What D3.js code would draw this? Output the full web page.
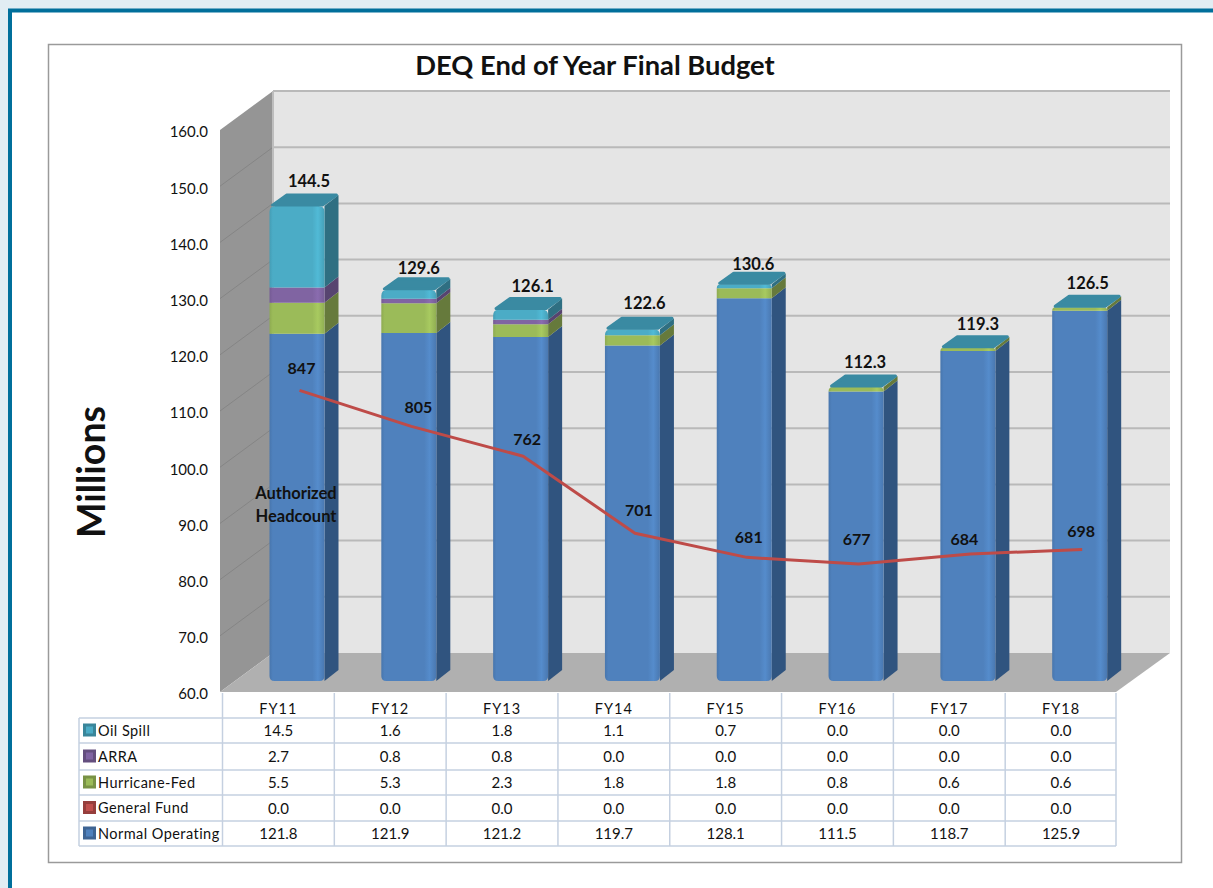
<!DOCTYPE html>
<html>
<head>
<meta charset="utf-8">
<script src="https://cdn.jsdelivr.net/npm/d3@7"></script>
<style>
  html, body { margin: 0; padding: 0; background: #fff; }
  svg { display: block; }
  text { font-family: Lato, "Open Sans", sans-serif; fill: #111; }
</style>
</head>
<body>
<svg width="1213" height="888"></svg>
<script>
const YEARS = ['FY11', 'FY12', 'FY13', 'FY14', 'FY15', 'FY16', 'FY17', 'FY18'];
const NORMAL = [121.8, 121.9, 121.2, 119.7, 128.1, 111.5, 118.7, 125.9];
const GENERAL = [0, 0, 0, 0, 0, 0, 0, 0];
const HURRICANE = [5.5, 5.3, 2.3, 1.8, 1.8, 0.8, 0.6, 0.6];
const ARRA = [2.7, 0.8, 0.8, 0, 0, 0, 0, 0];
const OIL = [14.5, 1.6, 1.8, 1.1, 0.7, 0, 0, 0];
const TOTALS = [144.5, 129.6, 126.1, 122.6, 130.6, 112.3, 119.3, 126.5];
const HEADCOUNT = [847, 805, 762, 701, 681, 677, 684, 698];
// where the headcount line sits, read in units of the left axis
const HEADCOUNT_LEVEL = [111.7, 105.3, 100, 86.3, 82, 80.8, 82.6, 83.4];
const AXIS_TICKS = [60, 70, 80, 90, 100, 110, 120, 130, 140, 150, 160];

const SERIES_NAMES = ['Oil Spill', 'ARRA', 'Hurricane-Fed', 'General Fund', 'Normal Operating'];
const SERIES_VALUES = [OIL, ARRA, HURRICANE, GENERAL, NORMAL];
const FRONT = ['#4bacc6', '#8064a2', '#9bbb59', '#c0504d', '#4f81bd'];
const SIDE = ['#2f6f82', '#574470', '#667a3c', '#7f3331', '#30547f'];

const DEPTH_X = 53, DEPTH_Y = 39;      // wall depth
const BAR_DX = 14, BAR_DY = 11;        // bar depth
const BAR_W = 55;

const svg = d3.select('svg');

const x = d3.scaleBand().domain(YEARS).range([222.5, 1117]);
const yFront = d3.scaleLinear().domain([60, 160]).range([692, 130]);
const yBar = v => yFront(v) - BAR_DY;
const yBack = v => yFront(v) - DEPTH_Y;

// page frame
svg.append('rect').attr('width', 1213).attr('height', 888).attr('fill', '#e1edf3');
svg.append('rect').attr('x', 10).attr('y', 10.5).attr('width', 1300).attr('height', 1000)
  .attr('fill', '#fff').attr('stroke', '#006f9b').attr('stroke-width', 4);
svg.append('rect').attr('x', 48.5).attr('y', 44.5).attr('width', 1133).attr('height', 818)
  .attr('fill', '#fff').attr('stroke', '#9a9a9a').attr('stroke-width', 1.5);

svg.append('text').attr('x', 595).attr('y', 75).attr('text-anchor', 'middle')
  .attr('font-size', 27.3).attr('font-weight', 700).text('DEQ End of Year Final Budget');
svg.append('text').attr('transform', 'translate(105,472) rotate(-90)').attr('text-anchor', 'middle')
  .attr('font-size', 37.5).attr('font-weight', 700).text('Millions');

// gradients for the bar fronts
const defs = svg.append('defs');
FRONT.forEach((c, i) => {
  const g = defs.append('linearGradient').attr('id', 'front' + i);
  const c3 = d3.color(c);
  [[0, c3.darker(0.25)], [0.06, c], [0.78, c], [0.88, c3.brighter(0.22)], [1, c3.darker(0.2)]].forEach(s => {
    g.append('stop').attr('offset', s[0]).attr('stop-color', s[1]);
  });
});
const blur = defs.append('filter').attr('id', 'soft').attr('x', '-5%').attr('y', '-20%').attr('width', '110%').attr('height', '140%');
blur.append('feGaussianBlur').attr('stdDeviation', 0.6);

// walls and floor
const xl = x.range()[0] - 2.5, xr = x.range()[1] - 1;
const wall = (pts, fill) => svg.append('polygon').attr('points', pts.join(' ')).attr('fill', fill);
wall([[xl + DEPTH_X, yBack(160)], [xr + DEPTH_X + 1, yBack(160)], [xr + DEPTH_X + 1, yBack(60)], [xl + DEPTH_X, yBack(60)]], '#e5e5e5');
wall([[xl, yFront(160)], [xl + DEPTH_X, yBack(160)], [xl + DEPTH_X, yBack(60)], [xl, yFront(60)]], '#959595');
wall([[xl, yFront(60)], [xl + DEPTH_X, yBack(60)], [xr + DEPTH_X + 1, yBack(60)], [xr, yFront(60)]], '#b0b0b0');

const gridTicks = AXIS_TICKS.filter(d => d > 60);
svg.append('g').selectAll('line').data(gridTicks).enter().append('line')
  .attr('x1', xl + DEPTH_X).attr('x2', xr + DEPTH_X + 1)
  .attr('y1', d => yBack(d)).attr('y2', d => yBack(d))
  .attr('stroke', '#b9b9b9').attr('stroke-width', 2);
svg.append('g').selectAll('line').data(gridTicks.filter(d => d < 160)).enter().append('line')
  .attr('x1', xl).attr('x2', xl + DEPTH_X)
  .attr('y1', d => yFront(d)).attr('y2', d => yBack(d))
  .attr('stroke', '#858585').attr('stroke-width', 1);
svg.append('line').attr('x1', xl + DEPTH_X).attr('x2', xl + DEPTH_X)
  .attr('y1', yBack(160)).attr('y2', yBack(60)).attr('stroke', '#bdbdbd').attr('stroke-width', 2);

// y axis
const yAxis = svg.append('g').attr('transform', 'translate(208,2)')
  .call(d3.axisLeft(yFront).tickValues(AXIS_TICKS).tickSize(0).tickPadding(0).tickFormat(d3.format('.1f')));
yAxis.select('.domain').remove();
yAxis.selectAll('text').attr('font-size', 15).style('font-family', 'Lato, sans-serif').attr('fill', '#111');

// bars, bottom segment first. Values count from 0, the axis starts at 60
const stackOrder = [4, 3, 2, 1, 0];
const bars = svg.append('g');
YEARS.forEach((yr, j) => {
  const bx = x(yr) + 47;
  let base = 0;
  const segs = [];
  stackOrder.forEach(s => {
    const v = SERIES_VALUES[s][j];
    if (v > 0) { segs.push({ s, y0: Math.max(base, 60), y1: base + v }); base += v; }
  });
  segs.forEach((d, k) => {
    const top = k === segs.length - 1;
    const py0 = yBar(d.y0), py1 = yBar(d.y1);
    bars.append('polygon')
      .attr('points', [[bx + BAR_W, py0], [bx + BAR_W + BAR_DX, py0 - BAR_DY], [bx + BAR_W + BAR_DX, py1 - BAR_DY], [bx + BAR_W, py1]].join(' '))
      .attr('fill', SIDE[d.s]);
    const r = top ? Math.min(6, py0 - py1) : 0;
    const r0 = k === 0 ? 5 : 0;
    bars.append('path')
      .attr('d', `M${bx},${py0 - r0}Q${bx},${py0} ${bx + r0},${py0}H${bx + BAR_W - r0}Q${bx + BAR_W},${py0} ${bx + BAR_W},${py0 - r0}V${py1 + r}Q${bx + BAR_W},${py1} ${bx + BAR_W - r},${py1}H${bx + r}Q${bx},${py1} ${bx},${py1 + r}Z`)
      .attr('fill', `url(#front${d.s})`);
  });
  // top face is teal on every bar, the empty oil spill segment still shows it
  const ty = yBar(base);
  bars.append('polygon')
    .attr('points', [[bx + 3, ty - 1], [bx + BAR_W - 2, ty - 1], [bx + BAR_W + BAR_DX - 2, ty - BAR_DY], [bx + BAR_DX + 3, ty - BAR_DY]].join(' '))
    .attr('fill', '#3a8aa2').attr('stroke', '#3a8aa2').attr('stroke-width', 3).attr('stroke-linejoin', 'round');
});

// totals above the bars
const totalShift = [1, 4, 2, 0, 6, 1, 2, 2];
svg.append('g').selectAll('text').data(YEARS).enter().append('text')
  .attr('x', (d, i) => x(d) + 47 + BAR_W / 2 + 10 + [2, 0, 2, 2, -1, -1, 0, -2][i])
  .attr('y', (d, i) => yBar(TOTALS[i]) - BAR_DY - 9 + totalShift[i])
  .attr('text-anchor', 'middle').attr('font-size', 16.5).attr('font-weight', 700)
  .text((d, i) => TOTALS[i].toFixed(1));

// headcount line
const line = d3.line().x((d, i) => x(YEARS[i]) + 77).y(d => yBar(d));
svg.append('path').datum(HEADCOUNT_LEVEL).attr('d', line).attr('fill', 'none')
  .attr('stroke', '#be4b48').attr('stroke-width', 3).attr('stroke-linejoin', 'round');

const hcNudgeX = [2, 7, 4, 4, 2, -2, -6, -1];
const hcNudgeY = [-16, -13, -11, -17, -14, -19, -9, -12];
svg.append('g').selectAll('text').data(HEADCOUNT).enter().append('text')
  .attr('x', (d, i) => x(YEARS[i]) + 77 + hcNudgeX[i])
  .attr('y', (d, i) => yBar(HEADCOUNT_LEVEL[i]) + hcNudgeY[i])
  .attr('text-anchor', 'middle').attr('font-size', 16).attr('font-weight', 700)
  .text(d => d);

svg.append('text').attr('x', 296).attr('y', 499).attr('text-anchor', 'middle')
  .attr('font-size', 16.5).attr('font-weight', 700).text('Authorized');
svg.append('text').attr('x', 296).attr('y', 522).attr('text-anchor', 'middle')
  .attr('font-size', 16.5).attr('font-weight', 700).text('Headcount');

// data table
const ROW_EDGES = [718, 743, 770, 795, 821, 846];
const tableLeft = 79;
const table = svg.append('g');
const colEdges = YEARS.map(d => x(d)).concat(x.range()[1] - 1);

table.selectAll('.hline').data(ROW_EDGES).enter().append('line').classed('hline', true)
  .attr('x1', tableLeft).attr('x2', colEdges[colEdges.length - 1])
  .attr('y1', d => d).attr('y2', d => d)
  .attr('stroke', '#c5d0e0').attr('stroke-width', 1.5);
table.selectAll('.vline').data(colEdges).enter().append('line').classed('vline', true)
  .attr('x1', d => d).attr('x2', d => d).attr('y1', 693).attr('y2', 846)
  .attr('stroke', '#c5d0e0').attr('stroke-width', 1.5);
table.append('line').attr('x1', tableLeft).attr('x2', tableLeft).attr('y1', 718).attr('y2', 846)
  .attr('stroke', '#c5d0e0').attr('stroke-width', 1.5);

table.selectAll('.head').data(YEARS).enter().append('text').classed('head', true)
  .attr('x', d => x(d) + x.bandwidth() / 2).attr('y', 714).attr('text-anchor', 'middle')
  .attr('font-size', 14.5).attr('letter-spacing', 1).text(d => d);

SERIES_NAMES.forEach((name, r) => {
  const cy = (ROW_EDGES[r] + ROW_EDGES[r + 1]) / 2;
  table.append('rect').attr('x', 83).attr('y', cy - 7).attr('width', 13).attr('height', 13)
    .attr('fill', d3.color(FRONT[r]).darker(0.7));
  table.append('rect').attr('x', 86).attr('y', cy - 4).attr('width', 7).attr('height', 7)
    .attr('fill', FRONT[r]).attr('filter', 'url(#soft)');
  table.append('text').attr('x', 98).attr('y', cy + 5).attr('font-size', 14.5).attr('letter-spacing', 0.45).text(name);
  table.selectAll('.row' + r).data(SERIES_VALUES[r]).enter().append('text').classed('row' + r, true)
    .attr('x', (d, i) => x(YEARS[i]) + x.bandwidth() / 2)
    .attr('y', cy + 5.5).attr('text-anchor', 'middle').attr('font-size', 15)
    .text(d => d.toFixed(1));
});
</script>
</body>
</html>
